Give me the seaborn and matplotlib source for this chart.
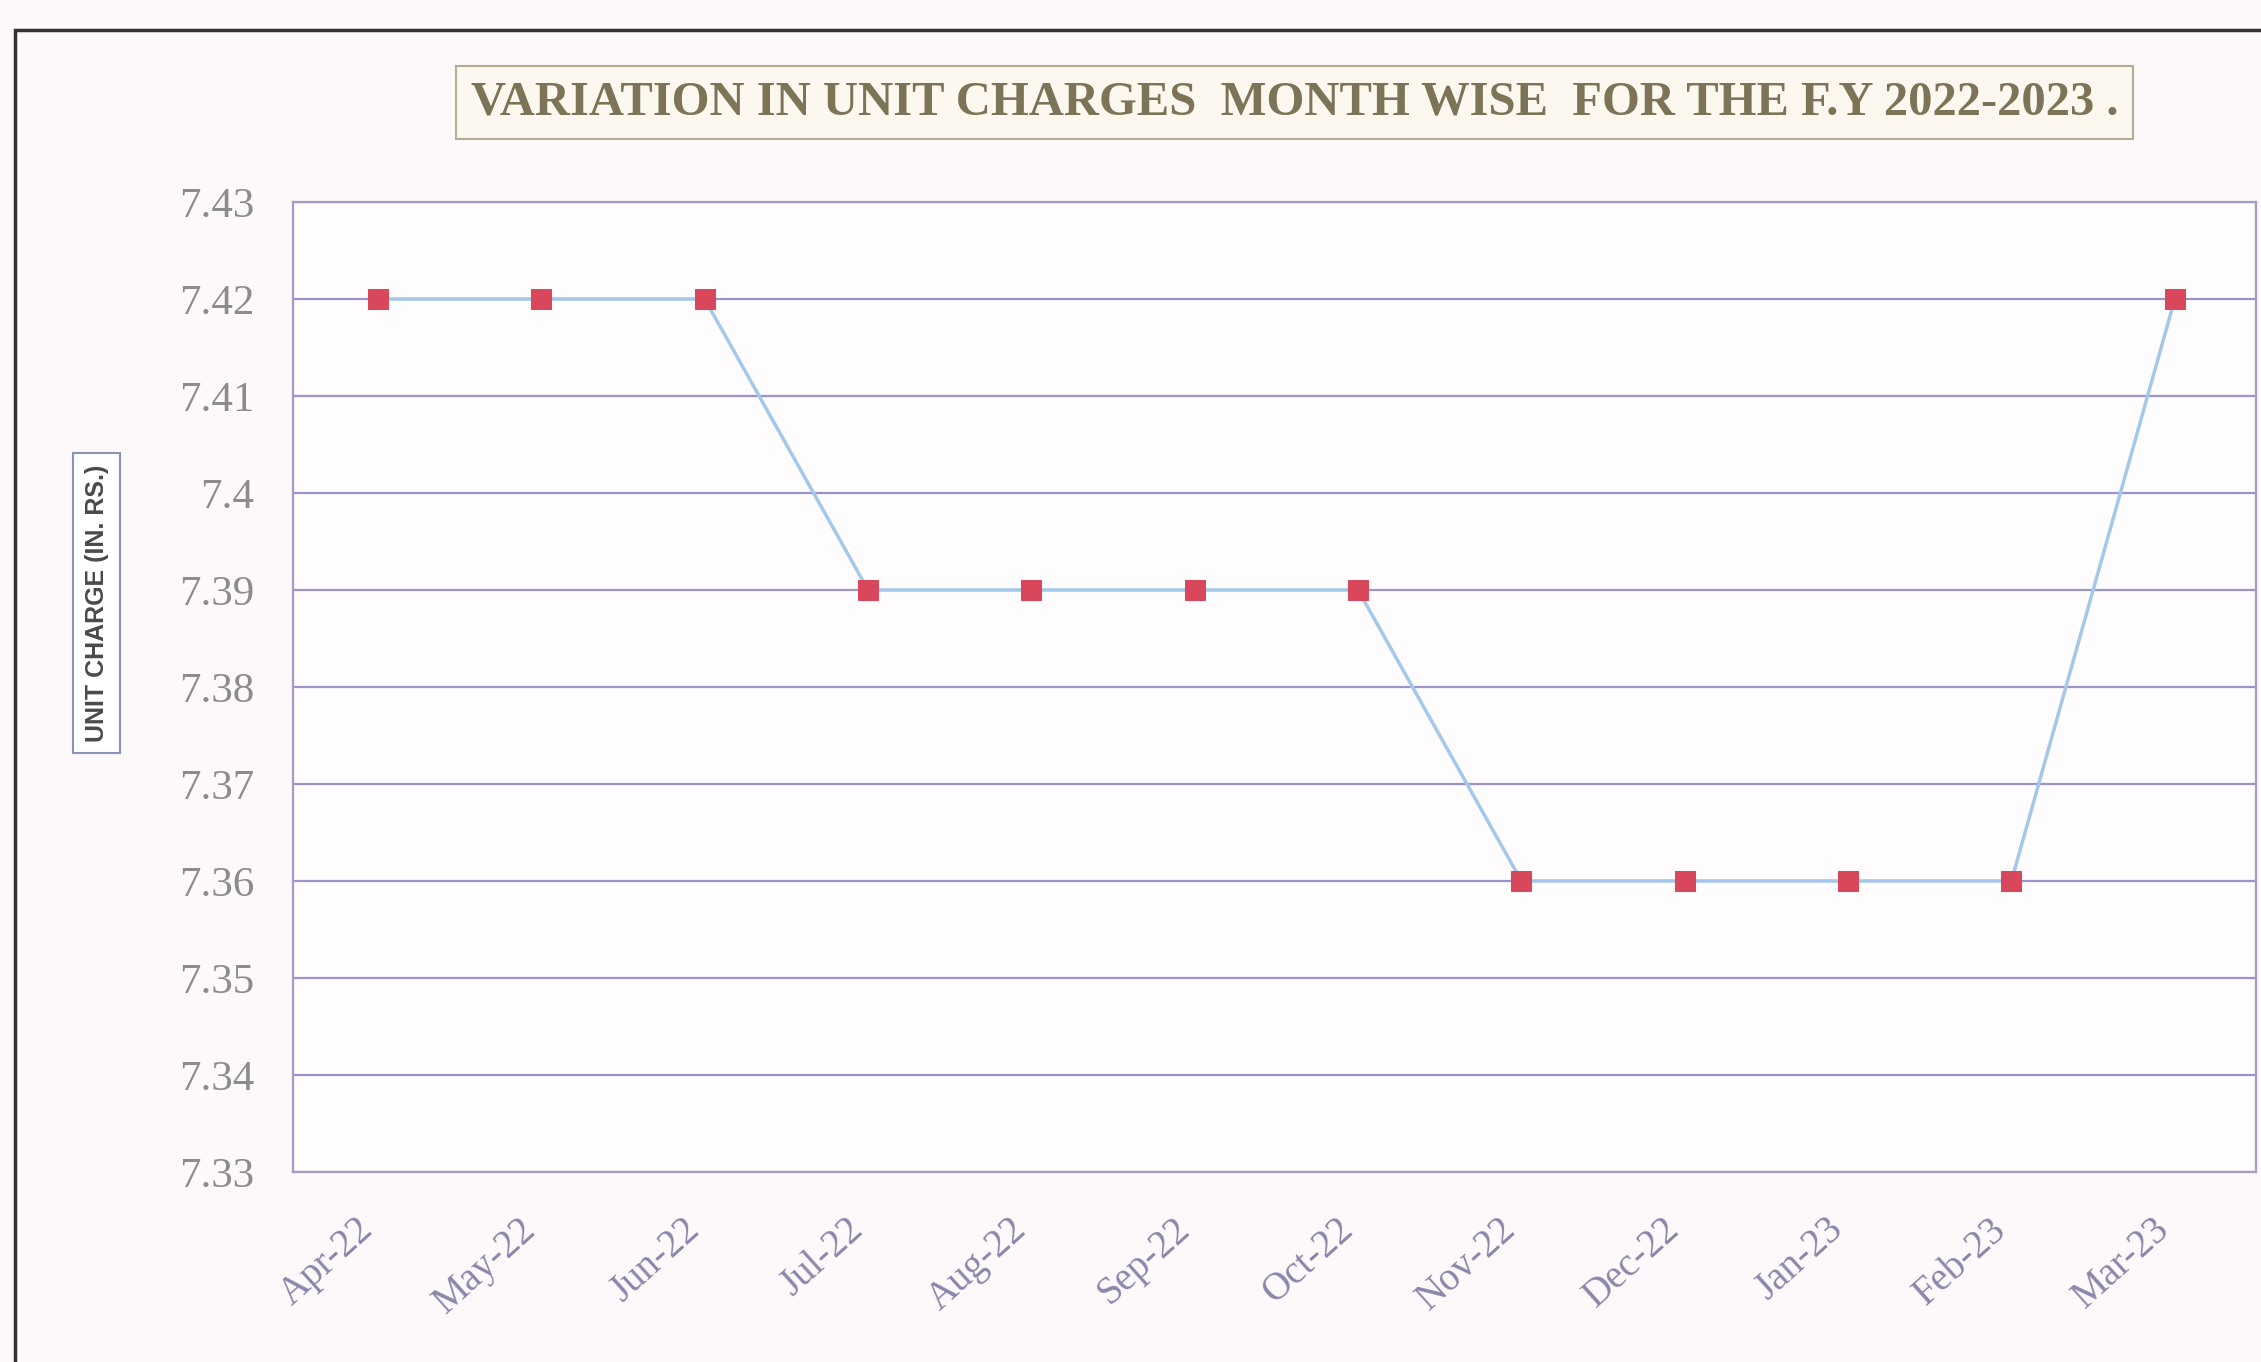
import matplotlib.pyplot as plt
import seaborn as sns
import pandas as pd
from matplotlib.patches import Rectangle
from matplotlib.transforms import ScaledTranslation

# data
months = ["Apr-22", "May-22", "Jun-22", "Jul-22", "Aug-22", "Sep-22",
          "Oct-22", "Nov-22", "Dec-22", "Jan-23", "Feb-23", "Mar-23"]
unit_charge = [7.42, 7.42, 7.42, 7.39, 7.39, 7.39, 7.39, 7.36, 7.36, 7.36, 7.36, 7.42]
y_ticks = [7.33, 7.34, 7.35, 7.36, 7.37, 7.38, 7.39, 7.40, 7.41, 7.42, 7.43]
y_labels = ["7.33", "7.34", "7.35", "7.36", "7.37", "7.38", "7.39", "7.4", "7.41", "7.42", "7.43"]

df = pd.DataFrame({"month": months, "charge": unit_charge})

sns.set_style("white")
fig = plt.figure(figsize=(22.61, 13.62), dpi=100, facecolor="#fdf9fb")
ax = fig.add_axes([0.1296, 0.1395, 0.8684, 0.7122])
ax.set_facecolor("#fefcfd")

sns.lineplot(data=df, x=range(len(months)), y="charge", sort=False, ax=ax,
             color="#a3c8ea", linewidth=2.5, marker="s", markersize=14,
             markerfacecolor="#d9475c", markeredgecolor="#d9475c")

ax.set_xlim(-0.52, 11.5)
ax.set_ylim(7.33, 7.43)
ax.set_yticks(y_ticks)
ax.set_yticklabels(y_labels, family="Liberation Serif", fontsize=31, color="#8c8c8c")
ax.set_xticks(range(len(months)))
ax.set_xticklabels(months, rotation=42, ha="right", va="center", rotation_mode="anchor",
                   family="Liberation Serif", fontsize=28, color="#8a87aa")
ax.tick_params(axis="y", pad=28, length=0)
ax.tick_params(axis="x", pad=38, length=0)
shift = ScaledTranslation(-10 / 100, 0, fig.dpi_scale_trans)
for lbl in ax.get_xticklabels():
    lbl.set_transform(lbl.get_transform() + shift)
ax.yaxis.grid(True, color="#9d92c9", linewidth=1.6)
ax.set_axisbelow(True)
for s in ax.spines.values():
    s.set_color("#a39cc4")
    s.set_linewidth(1.6)
ax.set_xlabel("")
ax.set_ylabel("")

# title in a box
fig.text(0.5725, 0.925, "VARIATION IN UNIT CHARGES  MONTH WISE  FOR THE F.Y 2022-2023 .",
         ha="center", va="center", family="Liberation Serif", fontweight="bold",
         fontsize=35, color="#7d7457",
         bbox=dict(boxstyle="square,pad=0.3", facecolor="#fdf8ef", edgecolor="#b5ad90", linewidth=1.5))

# y axis label in a box
fig.text(0.0427, 0.557, "UNIT CHARGE (IN. RS.)", rotation=90, ha="center", va="center",
         family="Liberation Sans", fontweight="bold", fontsize=18, color="#4a4a4a",
         bbox=dict(boxstyle="square,pad=0.45", facecolor="white", edgecolor="#8a93b5", linewidth=1.5))

# outer frame
fig.patches.append(Rectangle((0.0068, -0.05), 1.2, 1.028, transform=fig.transFigure,
                             fill=False, edgecolor="#333333", linewidth=2.5))

fig.savefig("out.png", dpi=100, facecolor=fig.get_facecolor())
